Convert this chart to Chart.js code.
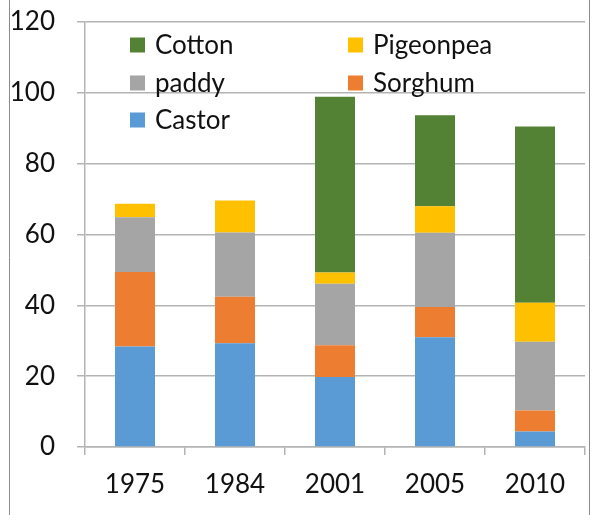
<!DOCTYPE html>
<html>
<head>
<meta charset="utf-8">
<script src="https://cdn.jsdelivr.net/npm/chart.js@4.4.0/dist/chart.umd.min.js"></script>
<style>
    html, body { margin: 0; padding: 0; background: #ffffff; }
    #wrap { width: 593px; height: 515px; position: relative; }
</style>
</head>
<body>
<div id="wrap"><canvas id="cropChart"></canvas></div>
<script>
// du lieu doc tu hinh
const years = ['1975', '1984', '2001', '2005', '2010'];
const castor = [28.4, 29.3, 19.8, 31.0, 4.4];
const sorghum = [21.0, 13.1, 8.9, 8.5, 5.9];
const paddy = [15.5, 18.2, 17.4, 21.0, 19.4];
const pigeonpea = [3.8, 9.0, 3.2, 7.5, 11.0];
const cotton = [0, 0, 49.6, 25.7, 49.8];
const yTicks = [0, 20, 40, 60, 80, 100, 120];

const gridColor = '#b4b4b4';
const textColor = '#111111';
const fontFamily = 'Lato, "Liberation Sans", sans-serif';

// khung mo ben trai / phai cua hinh
const framePlugin = {
    id: 'frame',
    beforeDraw: function (chart) {
        const ctx = chart.ctx;
        ctx.save();
        ctx.strokeStyle = '#8c8c8c';
        ctx.lineWidth = 1;
        ctx.beginPath();
        ctx.moveTo(9.5, 0);
        ctx.lineTo(9.5, chart.height);
        ctx.moveTo(589.5, 0);
        ctx.lineTo(589.5, chart.height);
        ctx.stroke();
        ctx.restore();
    }
};

// chu giai 2 cot ben trong vung ve
const legendPlugin = {
    id: 'legendInside',
    afterDraw: function (chart) {
        const ctx = chart.ctx;
        const order = [4, 3, 2, 1, 0]; // Cotton, Pigeonpea, paddy, Sorghum, Castor
        const colX = [130, 348];
        const rowY = [45, 83, 120];
        ctx.save();
        ctx.font = '26px ' + fontFamily;
        ctx.textBaseline = 'middle';
        ctx.textAlign = 'left';
        order.forEach(function (dsIndex, i) {
            const ds = chart.data.datasets[dsIndex];
            const x = colX[i % 2];
            const y = rowY[Math.floor(i / 2)];
            ctx.fillStyle = ds.backgroundColor;
            ctx.fillRect(x, y - 7.5, 15, 15);
            ctx.fillStyle = textColor;
            ctx.fillText(ds.label, x + 25, y + 1);
        });
        ctx.restore();
    }
};

const ctx = document.getElementById('cropChart').getContext('2d');
const cropChart = new Chart(ctx, {
    type: 'bar',
    data: {
        labels: years,
        datasets: [
            { label: 'Castor', data: castor, backgroundColor: '#5b9bd5' },
            { label: 'Sorghum', data: sorghum, backgroundColor: '#ed7d31' },
            { label: 'paddy', data: paddy, backgroundColor: '#a5a5a5' },
            { label: 'Pigeonpea', data: pigeonpea, backgroundColor: '#ffc000' },
            { label: 'Cotton', data: cotton, backgroundColor: '#548235' }
        ]
    },
    options: {
        responsive: true,
        maintainAspectRatio: false,
        animation: false,
        devicePixelRatio: 1,
        layout: { padding: { left: 10, right: 8, top: 22, bottom: 0 } },
        datasets: {
            bar: { barPercentage: 0.4, categoryPercentage: 1, borderWidth: 0 }
        },
        plugins: {
            legend: { display: false },
            tooltip: { enabled: false }
        },
        scales: {
            x: {
                stacked: true,
                grid: { drawOnChartArea: false, drawTicks: true, tickLength: 8, color: gridColor, lineWidth: 1.5, offset: true },
                border: { color: gridColor, width: 1.5 },
                ticks: { color: textColor, padding: 14, font: { family: fontFamily, size: 26 } },
                afterFit: function (scale) { scale.height = 68; }
            },
            y: {
                stacked: true,
                min: 0,
                max: 120,
                afterBuildTicks: function (scale) {
                    scale.ticks = yTicks.map(function (v) { return { value: v }; });
                },
                grid: { color: gridColor, lineWidth: 1.5, tickLength: 8 },
                border: { color: gridColor, width: 1.5 },
                ticks: { color: textColor, padding: 22, font: { family: fontFamily, size: 26 } },
                // bo phan dem tren/duoi de vung ve bat dau dung y=22
                afterFit: function (scale) { scale.width = 75; scale.paddingTop = 0; scale.paddingBottom = 0; }
            }
        }
    },
    plugins: [framePlugin, legendPlugin]
});
</script>
</body>
</html>
